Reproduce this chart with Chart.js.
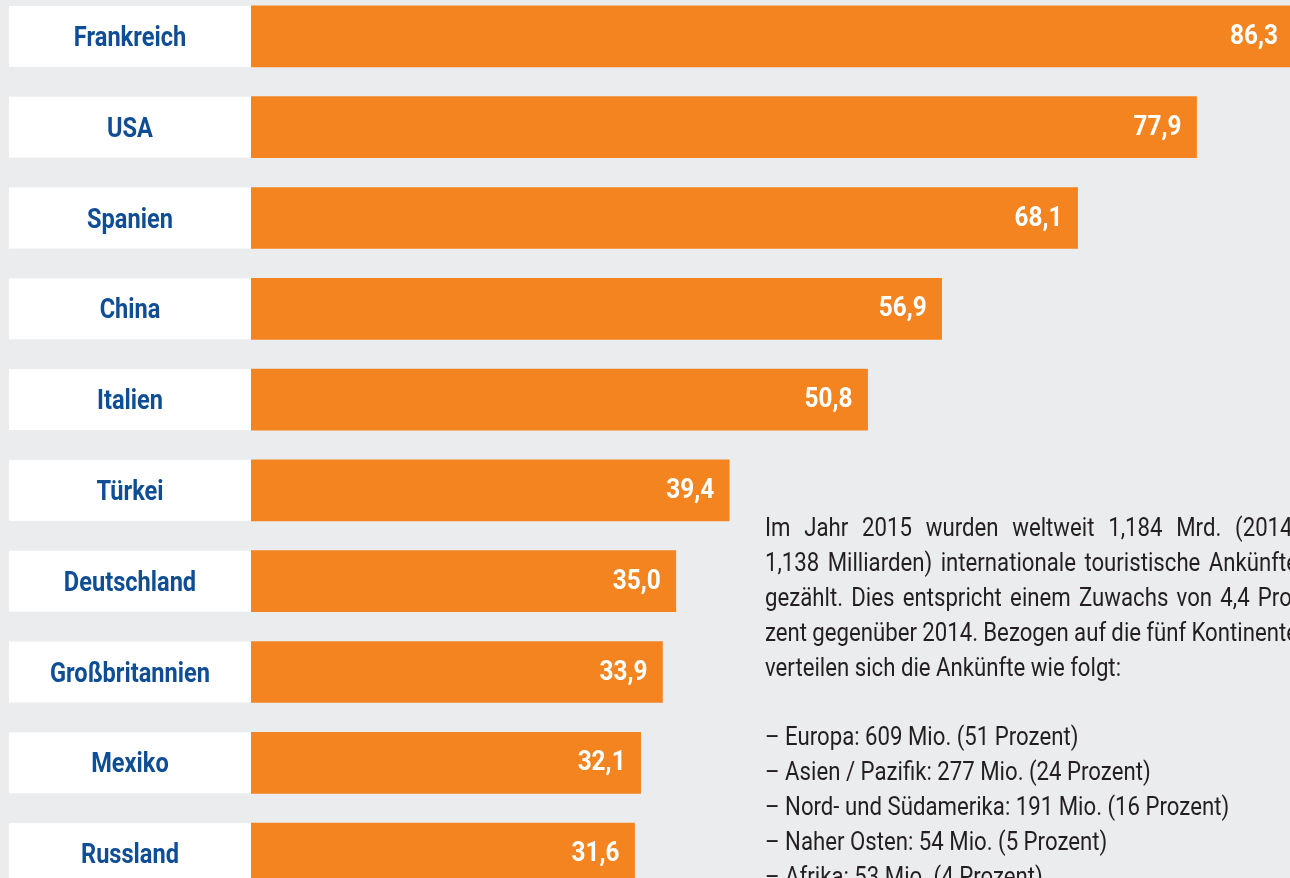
<!DOCTYPE html>
<html>
<head>
<meta charset="utf-8">
<script src="https://cdn.jsdelivr.net/npm/chart.js@4"></script>
<style>
  html, body { margin:0; padding:0; width:1290px; height:878px; overflow:hidden; background:#ebecee; }
  #c { position:absolute; left:0; top:-9px; }
  .txt { position:absolute; left:765px; font-family:Roboto,"Liberation Sans",sans-serif; font-size:26px; line-height:35px; color:#231f20; white-space:nowrap; transform-origin:0 0; }
  .j { display:flex; justify-content:space-between; }
  .l { display:block; }
</style>
</head>
<body>
<canvas id="c" width="1290" height="908"></canvas>
<div class="txt" id="t1" style="top:510px">
  <div class="j">Im Jahr 2015 wurden weltweit 1,184 Mrd. (2014:</div>
  <div class="j">1,138 Milliarden) internationale touristische Ankünfte</div>
  <div class="j">gezählt. Dies entspricht einem Zuwachs von 4,4 Pro-</div>
  <div class="j">zent gegenüber 2014. Bezogen auf die fünf Kontinente</div>
  <div class="l">verteilen sich die Ankünfte wie folgt:</div>
</div>
<div class="txt" id="t2" style="top:719px">
  <div class="l">– Europa: 609 Mio. (51 Prozent)</div>
  <div class="l">– Asien / Pazifik: 277 Mio. (24 Prozent)</div>
  <div class="l">– Nord- und Südamerika: 191 Mio. (16 Prozent)</div>
  <div class="l">– Naher Osten: 54 Mio. (5 Prozent)</div>
  <div class="l">– Afrika: 53 Mio. (4 Prozent)</div>
</div>
<script>
const countries = ["Frankreich","USA","Spanien","China","Italien","Türkei","Deutschland","Großbritannien","Mexiko","Russland"];
const arrivals = [86.3, 77.9, 68.1, 56.9, 50.8, 39.4, 35.0, 33.9, 32.1, 31.6];
const valueLabels = ["86,3","77,9","68,1","56,9","50,8","39,4","35,0","33,9","32,1","31,6"];

const FONT = 'Roboto,"Liberation Sans",sans-serif';

// condense the running text to match the narrow reference typeface
(function () {
  const m = document.createElement('canvas').getContext('2d');
  m.font = '26px ' + FONT;
  const s = 356 / m.measureText('verteilen sich die Ankünfte wie folgt:').width;
  const boxW = 533 / s;
  document.querySelectorAll('.j').forEach(d => {
    const words = d.textContent.trim().split(/\s+/);
    d.textContent = '';
    words.forEach(w => { const sp = document.createElement('span'); sp.textContent = w; d.appendChild(sp); });
  });
  ['t1','t2'].forEach(id => {
    const el = document.getElementById(id);
    el.style.width = boxW + 'px';
    el.style.transform = 'scaleX(' + s + ')';
  });
})();

const rowPlugin = {
  id: 'rows',
  beforeDatasetsDraw(chart) {
    const ctx = chart.ctx, y = chart.scales.y, a = chart.chartArea;
    ctx.save();
    ctx.font = 'bold 28px ' + FONT;
    const sx = 160 / ctx.measureText('Großbritannien').width;
    chart.data.labels.forEach((lab, i) => {
      const py = y.getPixelForValue(i);
      ctx.fillStyle = '#ffffff';
      ctx.fillRect(9, py - 30.5, a.left - 9, 61);
      ctx.fillStyle = '#0f4d94';
      ctx.textAlign = 'center';
      ctx.textBaseline = 'alphabetic';
      ctx.save();
      ctx.translate((9 + a.left) / 2, py + 9.5);
      ctx.scale(sx, 1);
      ctx.fillText(lab, 0, 0);
      ctx.restore();
    });
    ctx.restore();
  },
  afterDatasetsDraw(chart) {
    const ctx = chart.ctx, a = chart.chartArea;
    const meta = chart.getDatasetMeta(0);
    ctx.save();
    ctx.fillStyle = '#ffffff';
    ctx.font = 'bold 28px ' + FONT;
    const sx = 48 / ctx.measureText('33,9').width;
    ctx.textAlign = 'right';
    ctx.textBaseline = 'alphabetic';
    meta.data.forEach((bar, i) => {
      const x = bar.x > a.right ? a.right - 12 : bar.x - 15;
      ctx.save();
      ctx.translate(x, bar.y + 7.5);
      ctx.scale(sx, 1);
      ctx.fillText(valueLabels[i], 0, 0);
      ctx.restore();
    });
    ctx.restore();
  }
};

new Chart(document.getElementById('c'), {
  type: 'bar',
  data: {
    labels: countries,
    datasets: [{
      data: arrivals,
      backgroundColor: '#f48420',
      borderWidth: 0,
      barThickness: 61
    }]
  },
  options: {
    indexAxis: 'y',
    responsive: false,
    animation: false,
    devicePixelRatio: 1,
    layout: { padding: { left: 251, right: 0, top: 0, bottom: 0 } },
    plugins: { legend: { display: false }, tooltip: { enabled: false } },
    scales: {
      x: { display: false, min: 0, max: 85.6 },
      y: { display: false }
    }
  },
  plugins: [rowPlugin]
});
</script>
</body>
</html>
